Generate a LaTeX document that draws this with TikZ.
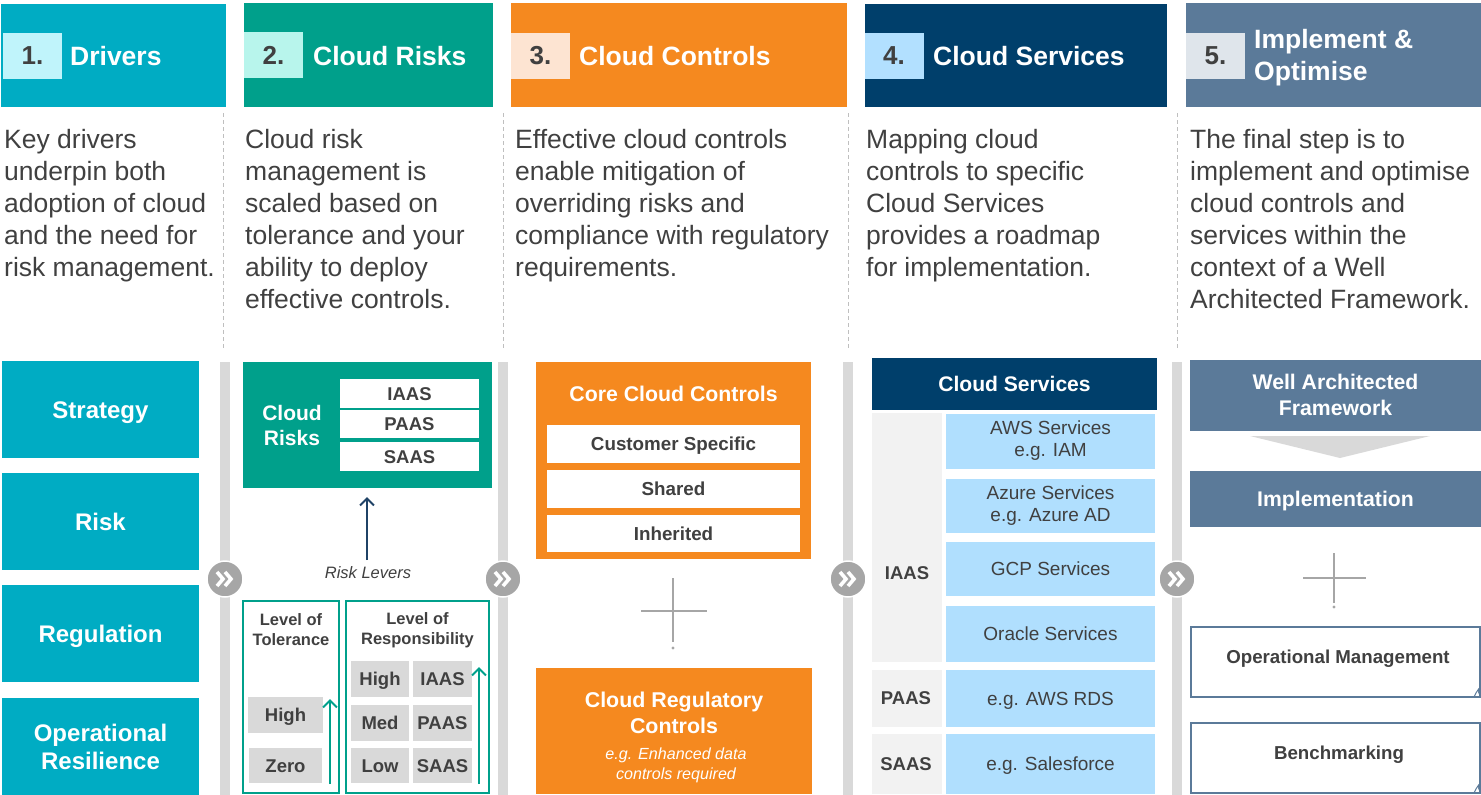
\documentclass[tikz,border=0pt]{standalone}
\usepackage{fontspec}
\setmainfont{Liberation Sans}
\usetikzlibrary{arrows.meta}
\newcommand\myfs[2]{\fontsize{#1}{#2}\selectfont}
\definecolor{cyanA}{HTML}{00ACC3}
\definecolor{tealA}{HTML}{00A08B}
\definecolor{orangeA}{HTML}{F5891F}
\definecolor{navyA}{HTML}{003F6B}
\definecolor{steelA}{HTML}{5B7A99}
\definecolor{txt}{HTML}{404040}
\definecolor{barG}{HTML}{D9D9D9}
\definecolor{chevG}{HTML}{A6A6A6}
\definecolor{dashG}{HTML}{BFBFBF}
\definecolor{lightBlue}{HTML}{B0DFFE}
\definecolor{paleG}{HTML}{F2F2F2}
\definecolor{nA}{HTML}{C0F4FB}
\definecolor{nB}{HTML}{B8F5EC}
\definecolor{nC}{HTML}{FDE4D2}
\definecolor{nD}{HTML}{B2E0FF}
\definecolor{nE}{HTML}{DFE5EB}
\definecolor{arrowNavy}{HTML}{1F4266}
\begin{document}
\begin{tikzpicture}[x=1pt,y=-1pt,
  rect/.style={inner sep=0,outer sep=0,draw=none,align=center},
  capH/.style={text height=#1,text depth=0pt},
  hdrnum/.style={rect,minimum width=59,minimum height=46,text=txt,font=\bfseries\myfs{26}{30}},
  hdrtxt/.style={inner sep=0,anchor=base west,text=white,font=\bfseries\myfs{26.5}{32},align=left},
  bodytext/.style={inner sep=0,anchor=north west,align=left,text=txt,font=\myfs{26.5}{32}},
  sepline/.style={dashG,line width=1,dash pattern=on 4pt off 3pt},
  flowbar/.style={fill=barG,draw=none},
  chevcirc/.style={circle,fill=chevG,draw=white,line width=1.5,minimum size=36,inner sep=0},
  chevline/.style={white,line width=3.6},
  drvbox/.style={rect,fill=cyanA,minimum width=197,minimum height=97,text=white,font=\bfseries\myfs{24}{28}},
  whitecell/.style={rect,fill=white,text=txt,font=\bfseries\myfs{18.5}{22},capH=13.3pt},
  graycell/.style={rect,fill=barG,text=txt,font=\bfseries\myfs{18.5}{22},capH=13.3pt},
  outlinebox/.style={rect,draw=tealA,line width=1.5},
  levtitle/.style={inner sep=0,align=center,text=txt,font=\bfseries\myfs{16.5}{20}},
  uparrow/.style={tealA,line width=2,-{Straight Barb[length=7pt,width=14pt]}},
  bluecell/.style={rect,fill=lightBlue,minimum width=209,text=txt,font=\myfs{19}{22}},
  palecell/.style={rect,fill=paleG,minimum width=70},
  svclabel/.style={inner sep=0,text=txt,font=\bfseries\myfs{18.5}{22}},
  plusline/.style={chevG,line width=2},
  steelbox/.style={rect,fill=steelA,minimum width=291,text=white,font=\bfseries\myfs{21.2}{26}},
  steeloutline/.style={rect,draw=steelA,line width=1.5,minimum width=289,minimum height=70},
  outlinetext/.style={inner sep=0,text=txt,font=\bfseries\myfs{18.7}{22},capH=13.4pt}
]
\useasboundingbox (0,0) rectangle (1481,795);

% ---------- headers ----------
\node[rect,fill=cyanA,minimum width=225,minimum height=103] (h1) at (113.5,55.5) {};
\node[hdrnum,fill=nA] (n1) at (32.5,56) {1.};
\node[hdrtxt] (t1) at (70,65) {Drivers};

\node[rect,fill=tealA,minimum width=249,minimum height=104] (h2) at (368.5,55) {};
\node[hdrnum,fill=nB] (n2) at (273.5,55) {2.};
\node[hdrtxt] (t2) at (313,65) {Cloud Risks};

\node[rect,fill=orangeA,minimum width=336,minimum height=104] (h3) at (679,55) {};
\node[hdrnum,fill=nC] (n3) at (540.5,55.5) {3.};
\node[hdrtxt] (t3) at (579,65) {Cloud Controls};

\node[rect,fill=navyA,minimum width=302,minimum height=103] (h4) at (1016,55.5) {};
\node[hdrnum,fill=nD] (n4) at (894,55.5) {4.};
\node[hdrtxt] (t4) at (933,65) {Cloud Services};

\node[rect,fill=steelA,minimum width=295,minimum height=104] (h5) at (1333.5,55) {};
\node[hdrnum,fill=nE] (n5) at (1215.5,55.5) {5.};
\node[inner sep=0,anchor=west,text=white,font=\bfseries\myfs{26.5}{32},align=left] (t5) at (1254,58) {Implement \&\\Optimise};

% ---------- body texts ----------
\node[bodytext] (b1) at (4,129) {Key drivers\\underpin both\\adoption of cloud\\and the need for\\risk management.};
\node[bodytext] (b2) at (245,129) {Cloud risk\\management is\\scaled based on\\tolerance and your\\ability to deploy\\effective controls.};
\node[bodytext] (b3) at (515,129) {Effective cloud controls\\enable mitigation of\\overriding risks and\\compliance with regulatory\\requirements.};
\node[bodytext] (b4) at (866,129) {Mapping cloud\\controls to specific\\Cloud Services\\provides a roadmap\\for implementation.};
\node[bodytext] (b5) at (1190,129) {The final step is to\\implement and optimise\\cloud controls and\\services within the\\context of a Well\\Architected Framework.};

% dashed separators
\coordinate (s1a) at (223,113); \coordinate (s1b) at (223,350);
\coordinate (s2a) at (503,113); \coordinate (s2b) at (503,350);
\coordinate (s3a) at (848,113); \coordinate (s3b) at (848,350);
\coordinate (s4a) at (1177,113); \coordinate (s4b) at (1177,350);
\draw[sepline] (s1a) -- (s1b);
\draw[sepline] (s2a) -- (s2b);
\draw[sepline] (s3a) -- (s3b);
\draw[sepline] (s4a) -- (s4b);

% flow bars
\fill[flowbar] (220,362) rectangle (230,795);
\fill[flowbar] (498,362) rectangle (508,795);
\fill[flowbar] (843,362) rectangle (853,795);
\fill[flowbar] (1172,362) rectangle (1182,795);

% chevron circles
\foreach \cx/\nm in {225/c1,503/c2,848/c3,1177/c4}{
  \node[chevcirc] (\nm) at (\cx,579) {};
  \draw[chevline] ([shift={(-8,-7)}]\nm.center) -- ([shift={(-2,0)}]\nm.center) -- ([shift={(-8,7)}]\nm.center);
  \draw[chevline] ([shift={(0,-7)}]\nm.center) -- ([shift={(6,0)}]\nm.center) -- ([shift={(0,7)}]\nm.center);
}

% ---------- column 1 ----------
\node[drvbox,capH=17.2pt] (strategy) at (100.5,409.5) {Strategy};
\node[drvbox,capH=17.2pt] (risk) at (100.5,521.5) {Risk};
\node[drvbox,capH=17.2pt] (regulation) at (100.5,633.5) {Regulation};
\node[drvbox] (opres) at (100.5,746.5) {Operational\\Resilience};

% ---------- column 2 ----------
\node[rect,fill=tealA,minimum width=249,minimum height=126] (crbox) at (367.5,425) {};
\node[inner sep=0,align=center,text=white,font=\bfseries\myfs{21}{25}] (crlabel) at (292,425) {Cloud\\Risks};
\node[whitecell,minimum width=139,minimum height=29] (cri) at (409.5,393.5) {IAAS};
\node[whitecell,minimum width=139,minimum height=28] (crp) at (409.5,424) {PAAS};
\node[whitecell,minimum width=139,minimum height=29] (crs) at (409.5,456.5) {SAAS};

\coordinate (rlbot) at (367,560);
\draw[arrowNavy,line width=2,-{Straight Barb[length=7pt,width=14pt]},shorten >=9pt] (rlbot) -- (rlbot |- crbox.south);
\node[inner sep=0,text=txt,font=\itshape\myfs{16.5}{19}] (rl) at (368,573) {Risk Levers};

\node[outlinebox,minimum width=96,minimum height=192] (tolbox) at (291,697) {};
\node[outlinebox,minimum width=143,minimum height=192] (respbox) at (417.5,697) {};
\node[levtitle] (toltitle) at (291,630) {Level of\\Tolerance};
\node[levtitle] (resptitle) at (417.5,630) {Level of\\Responsibility};

\node[graycell,minimum width=75,minimum height=36] (tolhigh) at (285.5,715) {High};
\node[graycell,minimum width=73,minimum height=35] (tolzero) at (285.5,765.5) {Zero};
\coordinate (ta1) at (330,784); \coordinate (ta2) at (330,699);
\draw[uparrow] (ta1) -- (ta2);

\node[graycell,minimum width=58,minimum height=36] (rh) at (380,679) {High};
\node[graycell,minimum width=59,minimum height=36] (ri) at (442.5,679) {IAAS};
\node[graycell,minimum width=58,minimum height=36] (rm) at (380,723) {Med};
\node[graycell,minimum width=59,minimum height=36] (rp) at (442.5,723) {PAAS};
\node[graycell,minimum width=58,minimum height=35] (rlw) at (380,765.5) {Low};
\node[graycell,minimum width=59,minimum height=35] (rs) at (442.5,765.5) {SAAS};
\coordinate (ra1) at (479,784); \coordinate (ra2) at (479,667);
\draw[uparrow] (ra1) -- (ra2);

% ---------- column 3 ----------
\node[rect,fill=orangeA,minimum width=275,minimum height=197] (corebox) at (673.5,460.5) {};
\node[inner sep=0,text=white,font=\bfseries\myfs{21.3}{24},capH=15.3pt] (coretitle) at (673.5,394) {Core Cloud Controls};
\node[whitecell,minimum width=253,minimum height=38,font=\bfseries\myfs{18.8}{21}] (cust) at (673.5,444) {Customer Specific};
\node[whitecell,minimum width=253,minimum height=38,font=\bfseries\myfs{18.8}{21}] (shared) at (673.5,489) {Shared};
\node[whitecell,minimum width=253,minimum height=37,font=\bfseries\myfs{18.8}{21}] (inher) at (673.5,533.5) {Inherited};

\coordinate (p1t) at (673,578); \coordinate (p1b) at (673,642);
\coordinate (p1l) at (641,611); \coordinate (p1r) at (707,611);
\draw[plusline] (p1t) -- (p1b);
\draw[plusline] (p1l) -- (p1r);
\fill[chevG] (673,648) circle (1.6);

\node[rect,fill=orangeA,minimum width=276,minimum height=126] (regbox) at (674,731) {};
\node[inner sep=0,align=center,text=white,font=\bfseries\myfs{21.4}{26}] (regtitle) at (674,713) {Cloud Regulatory\\Controls};
\node[inner sep=0,align=center,text=white,font=\itshape\myfs{16.1}{20}] (regsub) at (676,765) {e.g. Enhanced data\\controls required};

% ---------- column 4 ----------
\node[rect,fill=navyA,minimum width=285,minimum height=52,text=white,font=\bfseries\myfs{21.1}{24},capH=15.1pt] (cshead) at (1014.5,384) {Cloud Services};
\node[palecell,minimum height=249] (giaas) at (907,537.5) {};
\node[palecell,minimum height=57] (gpaas) at (907,698.5) {};
\node[palecell,minimum height=60] (gsaas) at (907,764) {};
\node[svclabel,capH=13.3pt] (liaas) at (907,573) {IAAS};
\node[svclabel,capH=13.3pt] (lpaas) at (906,698) {PAAS};
\node[svclabel,capH=13.3pt] (lsaas) at (906,764) {SAAS};

\node[bluecell,minimum height=55] (aws) at (1050.5,441) {AWS Services\\e.g. IAM};
\node[bluecell,minimum height=54] (azure) at (1050.5,505.5) {Azure Services\\e.g. Azure AD};
\node[bluecell,minimum height=54,capH=13.6pt] (gcp) at (1050.5,569) {GCP Services};
\node[bluecell,minimum height=56,capH=13.6pt] (oracle) at (1050.5,634) {Oracle Services};
\node[bluecell,minimum height=57,capH=13.6pt] (rds) at (1050.5,698.5) {e.g. AWS RDS};
\node[bluecell,minimum height=60,capH=13.6pt] (sf) at (1050.5,764) {e.g. Salesforce};

% ---------- column 5 ----------
\node[steelbox,minimum height=71] (waf) at (1335.5,395) {Well Architected\\Framework};
\fill[barG] (1250,436) -- (1430,436) -- (1340,458) -- cycle;
\node[steelbox,minimum height=56,capH=15.2pt] (impl) at (1335.5,499) {Implementation};

\coordinate (p2t) at (1334,553); \coordinate (p2b) at (1334,603);
\coordinate (p2l) at (1303,578); \coordinate (p2r) at (1366,578);
\draw[plusline] (p2t) -- (p2b);
\draw[plusline] (p2l) -- (p2r);
\fill[chevG] (1334,607) circle (1.6);

\node[steeloutline] (opm) at (1335.5,662) {};
\node[outlinetext] (opmt) at (1338,657) {Operational Management};
\node[steeloutline] (bench) at (1335.5,758) {};
\node[outlinetext] (bencht) at (1339,753) {Benchmarking};
\draw[steelA,line width=1] (1474,697) .. controls (1477,690) and (1481,686) .. (1480,688) .. controls (1478,691) and (1478,694) .. (1481,695);
\draw[steelA,line width=1] (1474,793) .. controls (1477,786) and (1481,782) .. (1480,784) .. controls (1478,787) and (1478,790) .. (1481,791);
\end{tikzpicture}
\end{document}
